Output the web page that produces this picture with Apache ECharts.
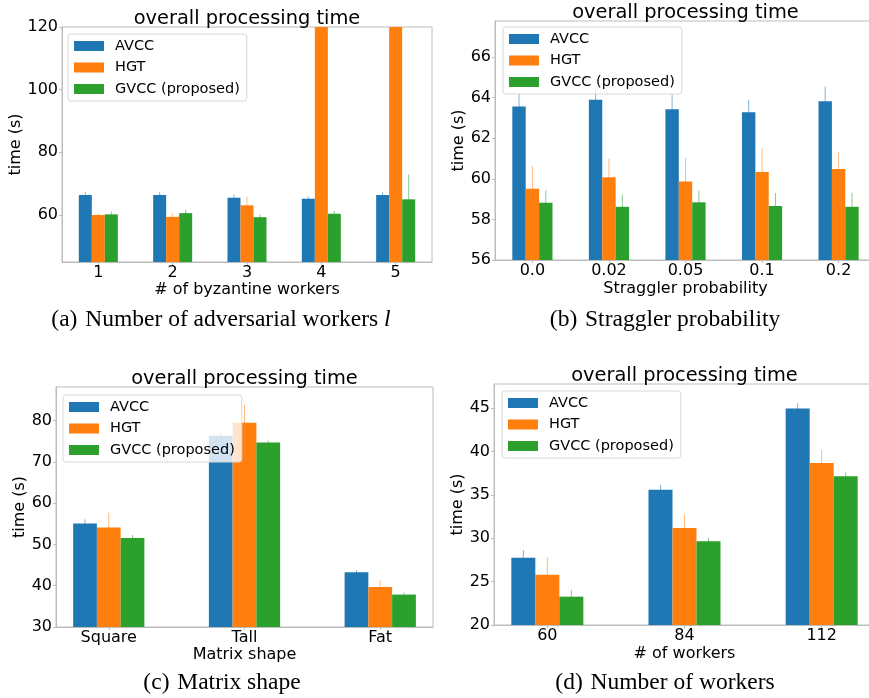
<!DOCTYPE html>
<html><head><meta charset="utf-8">
<script src="https://cdn.jsdelivr.net/npm/echarts@6/dist/echarts.min.js"></script>
<style>html,body{margin:0;padding:0;background:#fff}#c{width:869px;height:698px}</style>
</head><body><div id="c"></div>
<script>
// ---------- data ----------
const seriesNames = ['AVCC', 'HGT', 'GVCC (proposed)'];

const catsA = ['1', '2', '3', '4', '5'];
const avccA = [66.4, 66.4, 65.5, 65.2, 66.4];
const hgtA = [60.0, 59.4, 63.1, 150, 150];
const gvccA = [60.2, 60.6, 59.3, 60.4, 65.0];
const avccErrA = [0.9, 0.9, 1.0, 0.7, 0.9];
const hgtErrA = [0.5, 1.1, 2.8, 0, 0];
const gvccErrA = [0.9, 1.2, 0.9, 0.9, 8.0];
const ticksA = [60, 80, 100, 120];

const catsB = ['0.0', '0.02', '0.05', '0.1', '0.2'];
const avccB = [63.56, 63.89, 63.43, 63.28, 63.82];
const hgtB = [59.51, 60.07, 59.87, 60.33, 60.48];
const gvccB = [58.82, 58.62, 58.84, 58.66, 58.62];
const avccErrB = [0.7, 0.65, 0.7, 0.62, 0.72];
const hgtErrB = [1.1, 0.93, 1.16, 1.17, 0.83];
const gvccErrB = [0.61, 0.61, 0.59, 0.64, 0.69];
const ticksB = [56, 58, 60, 62, 64, 66];

const catsC = ['Square', 'Tall', 'Fat'];
const avccC = [55.1, 76.35, 43.3];
const hgtC = [54.15, 79.5, 39.7];
const gvccC = [51.55, 74.7, 37.86];
const avccErrC = [1.0, 0.85, 0.5];
const hgtErrC = [3.55, 4.4, 1.6];
const gvccErrC = [0.75, 0.5, 0.5];
const ticksC = [30, 40, 50, 60, 70, 80];

const catsD = ['60', '84', '112'];
const avccD = [27.77, 35.6, 44.96];
const hgtD = [25.8, 31.2, 38.7];
const gvccD = [23.27, 29.65, 37.15];
const avccErrD = [0.88, 0.55, 0.62];
const hgtErrD = [2.0, 1.6, 1.5];
const gvccErrD = [0.77, 0.43, 0.45];
const ticksD = [20, 25, 30, 35, 40, 45];

// ---------- styling / layout ----------
const colors = ['#1f77b4', '#ff7f0e', '#2ca02c'];
const errColors = ['rgba(31,119,180,0.55)', 'rgba(255,127,14,0.55)', 'rgba(44,160,44,0.55)'];
const FONT = 'DejaVu Sans';
const BW = 0.175; // bar width in category units
const FRAME = '#bdbdbd';

const panels = [
  { cats: catsA, vals: [avccA, hgtA, gvccA], errs: [avccErrA, hgtErrA, gvccErrA], ticks: ticksA,
    yMin: 45, yMax: 120, grid: { left: 62, top: 27, width: 370, height: 235 },
    xName: '# of byzantine workers', yGap: 29.7, xGap: 19.7,
    legend: { left: 68, top: 34 }, titleY: 19 },
  { cats: catsB, vals: [avccB, hgtB, gvccB], errs: [avccErrB, hgtErrB, gvccErrB], ticks: ticksB,
    yMin: 56, yMax: 67.77, grid: { left: 495, top: 21, width: 381, height: 239 },
    xName: 'Straggler probability', yGap: 19, xGap: 20.7,
    legend: { left: 503, top: 27 }, titleY: 13 },
  { cats: catsC, vals: [avccC, hgtC, gvccC], errs: [avccErrC, hgtErrC, gvccErrC], ticks: ticksC,
    yMin: 30, yMax: 88.18, grid: { left: 56, top: 387, width: 377, height: 240 },
    xName: 'Matrix shape', yGap: 19.3, xGap: 20.3,
    legend: { left: 63, top: 395 }, titleY: 379 },
  { cats: catsD, vals: [avccD, hgtD, gvccD], errs: [avccErrD, hgtErrD, gvccErrD], ticks: ticksD,
    yMin: 20, yMax: 47.8, grid: { left: 494, top: 384, width: 381, height: 241 },
    xName: '# of workers', yGap: 19.6, xGap: 20.7,
    legend: { left: 502, top: 391 }, titleY: 376 }
];

function makeRender(k, color, errColor) {
  return function (params, api) {
    const cs = params.coordSys;
    const x = api.value(0) + k * BW;
    const v = api.value(1), e = api.value(2);
    const pl = api.coord([x - BW / 2, v]);
    const pr = api.coord([x + BW / 2, v]);
    const bottom = cs.y + cs.height;
    const top = Math.max(pl[1], cs.y);
    const children = [{
      type: 'rect',
      shape: { x: pl[0], y: top, width: pr[0] - pl[0], height: bottom - top },
      style: { fill: color }
    }];
    if (e > 0) {
      const a = api.coord([x, v - e]), b = api.coord([x, v + e]);
      children.push({
        type: 'line',
        shape: { x1: a[0], y1: Math.min(a[1], bottom), x2: b[0], y2: Math.max(b[1], cs.y) },
        style: { stroke: errColor, lineWidth: 1 }
      });
    }
    return { type: 'group', children };
  };
}

const grids = [], xAxes = [], yAxes = [], series = [], legends = [], graphics = [];
panels.forEach((p, pi) => {
  const n = p.cats.length;
  const half = BW * 1.5;
  const margin = 0.05 * (n - 1 + 2 * half);
  grids.push(Object.assign({ show: true, borderColor: FRAME, borderWidth: 1, backgroundColor: 'transparent',
    containLabel: false, outerBoundsMode: 'none' }, p.grid));
  const idxs = p.cats.map((c, i) => i);
  xAxes.push({
    type: 'value', gridIndex: pi, min: -half - margin, max: n - 1 + half + margin,
    splitLine: { show: false },
    axisLine: { show: true, onZero: false, lineStyle: { color: FRAME, width: 1 } },
    axisTick: { show: true, length: 3, lineStyle: { color: FRAME }, customValues: idxs },
    axisLabel: { customValues: idxs, margin: 3, fontFamily: FONT, fontSize: 16, color: '#000',
      formatter: (v) => p.cats[Math.round(v)] },
    name: p.xName, nameLocation: 'middle', nameGap: p.xGap,
    nameTextStyle: { fontFamily: FONT, fontSize: 16, color: '#000' }
  });
  yAxes.push({
    type: 'value', gridIndex: pi, min: p.yMin, max: p.yMax,
    splitLine: { show: false },
    axisLine: { show: true, onZero: false, lineStyle: { color: FRAME, width: 1 } },
    axisTick: { show: true, length: 3, lineStyle: { color: FRAME }, customValues: p.ticks },
    axisLabel: { customValues: p.ticks, margin: 4, fontFamily: FONT, fontSize: 16, color: '#000' },
    name: 'time (s)', nameLocation: 'middle', nameGap: p.yGap, nameRotate: 90,
    nameTextStyle: { fontFamily: FONT, fontSize: 16, color: '#000' }
  });
  seriesNames.forEach((name, k) => {
    series.push({
      type: 'custom', name, xAxisIndex: pi, yAxisIndex: pi, clip: true,
      itemStyle: { color: colors[k] },
      renderItem: makeRender(k - 1, colors[k], errColors[k]),
      encode: { x: 0, y: 1 },
      data: p.cats.map((c, i) => [i, p.vals[k][i], p.errs[k][i]]),
      silent: true
    });
  });
  legends.push({
    left: p.legend.left, top: p.legend.top, orient: 'vertical', data: seriesNames,
    icon: 'rect', itemWidth: 30, itemHeight: 10, itemGap: 5.5,
    padding: [4, 7, 4, 6], backgroundColor: 'rgba(255,255,255,0.8)',
    borderColor: '#d8d8d8', borderWidth: 1, borderRadius: 3, selectedMode: false,
    textStyle: { fontFamily: FONT, fontSize: 14.5, color: '#000', lineHeight: 16, padding: [0, 0, 0, 6] }
  });
  graphics.push({
    type: 'text', x: p.grid.left + p.grid.width / 2, y: p.titleY, z: 10,
    style: { text: 'overall processing time', font: '19.4px "DejaVu Sans"', fill: '#000',
      textAlign: 'center', textVerticalAlign: 'middle' }
  });
});

const captions = [
  { x: 221, y: 320, text: '(a)\u2004Number of adversarial workers {i|l}' },
  { x: 665, y: 320, text: '(b)\u2004Straggler probability' },
  { x: 222, y: 683, text: '(c)\u2004Matrix shape' },
  { x: 665, y: 683, text: '(d)\u2004Number of workers' }
];
captions.forEach(c => {
  graphics.push({
    type: 'text', x: c.x, y: c.y, z: 10,
    style: { text: c.text, font: '23.5px "Liberation Serif"', fill: '#000',
      textAlign: 'center', textVerticalAlign: 'middle',
      rich: { i: { fontStyle: 'italic', fontFamily: 'Liberation Serif', fontSize: 23.5 } } }
  });
});

const chart = echarts.init(document.getElementById('c'), null, { renderer: 'canvas' });
chart.setOption({
  animation: false,
  backgroundColor: '#fff',
  color: colors,
  grid: grids, xAxis: xAxes, yAxis: yAxes, series, legend: legends, graphic: graphics
});
</script></body></html>
